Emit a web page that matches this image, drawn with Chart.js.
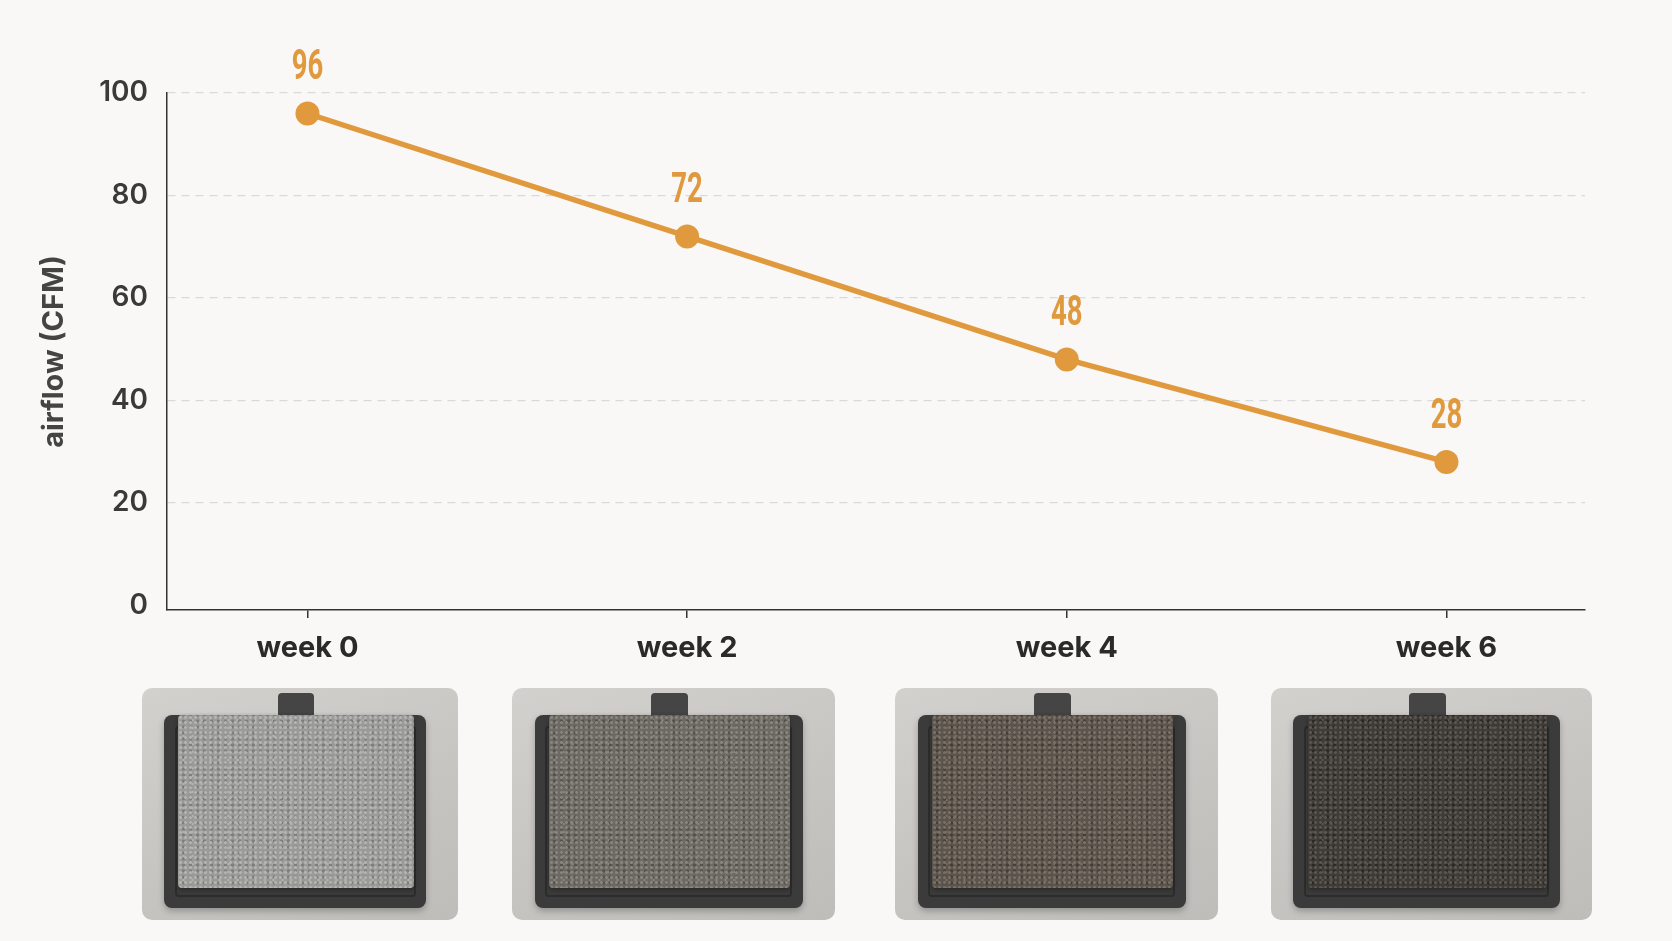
<!DOCTYPE html>
<html>
<head>
<meta charset="utf-8">
<script src="https://cdn.jsdelivr.net/npm/chart.js@4.4.1/dist/chart.umd.min.js"></script>
<style>
  html, body { margin: 0; padding: 0; background: #f9f8f6; width: 1672px; height: 941px; overflow: hidden; }
  #wrap { position: absolute; left: 0; top: 0; width: 1672px; height: 670px; }
  .card {
    position: absolute; top: 688px; height: 232px; border-radius: 10px;
    background: linear-gradient(160deg, #d3d1ce 0%, #c6c4c1 60%, #bfbdba 100%);
    overflow: hidden;
  }
  .tab { position: absolute; left: 43%; width: 11.5%; top: 2%; height: 11%; background: #454545; border-radius: 4px 4px 0 0; }
  .frame {
    position: absolute; left: 7%; right: 10%; top: 11.5%; bottom: 5%;
    background: #3b3b3b; border-radius: 8px;
    box-shadow: 0 3px 6px rgba(0,0,0,0.25);
  }
  .frame::after {
    content: ''; position: absolute; left: 4%; right: 4%; top: 6%; bottom: 6%;
    border: 2px solid #2c2c2c; border-radius: 4px;
  }
  .foam {
    position: absolute; left: 11.5%; right: 14%; top: 11.5%; bottom: 14%;
    border-radius: 4px; box-shadow: 0 2px 4px rgba(0,0,0,0.3);
  }
</style>
</head>
<body>
<div id="wrap"><canvas id="airflowChart"></canvas></div>
<div id="cards"></div>
<script>
const weeks = [0, 2, 4, 6];
const weekLabels = ['week 0', 'week 2', 'week 4', 'week 6'];
const airflow = [96, 72, 48, 28];
const yTicks = [0, 20, 40, 60, 80, 100];

const orange = '#e0993d';

// photo stand-ins under each week
const cardSpots = [[142, 316], [512, 323], [895, 323], [1271, 321]];
const foamTones = [
    ['#b4b4b2', '#7e7e7c', '#9a9a98'],
    ['#8a857e', '#55514c', '#6d6963'],
    ['#7a7166', '#463f38', '#5c554d'],
    ['#5c5650', '#2b2825', '#3f3b37']
];
const cards = document.getElementById('cards');
cardSpots.forEach((spot, i) => {
    const card = document.createElement('div');
    card.className = 'card';
    card.style.left = spot[0] + 'px';
    card.style.width = spot[1] + 'px';
    const t = foamTones[i];
    card.innerHTML = `<div class="tab"></div><div class="frame"></div>
        <div class="foam" style="background:
            radial-gradient(circle, ${t[0]} 1px, transparent 1.8px) 0 0 / 5px 5px,
            radial-gradient(circle, ${t[1]} 1.2px, transparent 2px) 2px 3px / 7px 6px,
            radial-gradient(circle, ${t[0]} 0.8px, transparent 1.5px) 1px 1px / 9px 8px,
            ${t[2]}"></div>`;
    cards.appendChild(card);
});

const valueLabels = {
    id: 'valueLabels',
    afterDatasetsDraw(chart) {
        const ctx = chart.ctx;
        const meta = chart.getDatasetMeta(0);
        ctx.save();
        ctx.fillStyle = orange;
        ctx.font = 'bold 43px Roboto, sans-serif';
        ctx.textAlign = 'center';
        ctx.textBaseline = 'middle';
        meta.data.forEach((pt, i) => {
            ctx.save();
            ctx.translate(pt.x, pt.y - 45);
            ctx.scale(0.64, 1);
            ctx.fillText(String(airflow[i]), 0, 0);
            ctx.restore();
        });
        ctx.restore();
    }
};

const ctx = document.getElementById('airflowChart').getContext('2d');
new Chart(ctx, {
    type: 'line',
    data: {
        datasets: [{
            data: weeks.map((w, i) => ({ x: w, y: airflow[i] })),
            borderColor: orange,
            backgroundColor: orange,
            borderWidth: 5.5,
            pointRadius: 12,
            pointHoverRadius: 12,
            pointBorderWidth: 0,
            pointBackgroundColor: orange,
            tension: 0
        }]
    },
    options: {
        responsive: true,
        maintainAspectRatio: false,
        animation: false,
        layout: { padding: { top: 93, right: 87, left: 0, bottom: 0 } },
        plugins: {
            legend: { display: false },
            tooltip: { enabled: false }
        },
        scales: {
            x: {
                type: 'linear',
                min: -0.74,
                max: 6.73,
                afterBuildTicks: scale => { scale.ticks = weeks.map(v => ({ value: v })); },
                afterFit: scale => { scale.height = 60; },
                ticks: {
                    callback: (v) => weekLabels[weeks.indexOf(v)],
                    color: '#2a2a2a',
                    font: { family: 'Inter', size: 29, weight: 'bold' },
                    padding: 13,
                    maxRotation: 0
                },
                grid: { drawOnChartArea: false, drawTicks: true, tickLength: 8, color: '#333', lineWidth: 1.5 },
                border: { display: true, color: '#333', width: 1.5 }
            },
            y: {
                min: -0.9,
                max: 100,
                afterBuildTicks: scale => { scale.ticks = yTicks.map(v => ({ value: v })); },
                afterFit: scale => { scale.width = 167; },
                ticks: {
                    color: '#3a3a3a',
                    font: { family: 'Inter', size: 28, weight: '600' },
                    padding: 19
                },
                grid: {
                    drawTicks: false,
                    color: c => (c.tick && c.tick.value === 0 ? 'rgba(0,0,0,0)' : '#d9d9d9'),
                    lineWidth: 1.2
                },
                border: { display: true, color: '#333', width: 1.5, dash: [8, 6] },
                title: {
                    display: true,
                    text: 'airflow (CFM)',
                    color: '#444',
                    font: { family: 'Inter', size: 29, weight: 'bold' },
                    padding: { top: 37, bottom: 0 }
                }
            }
        }
    },
    plugins: [valueLabels]
});
</script>
</body>
</html>
